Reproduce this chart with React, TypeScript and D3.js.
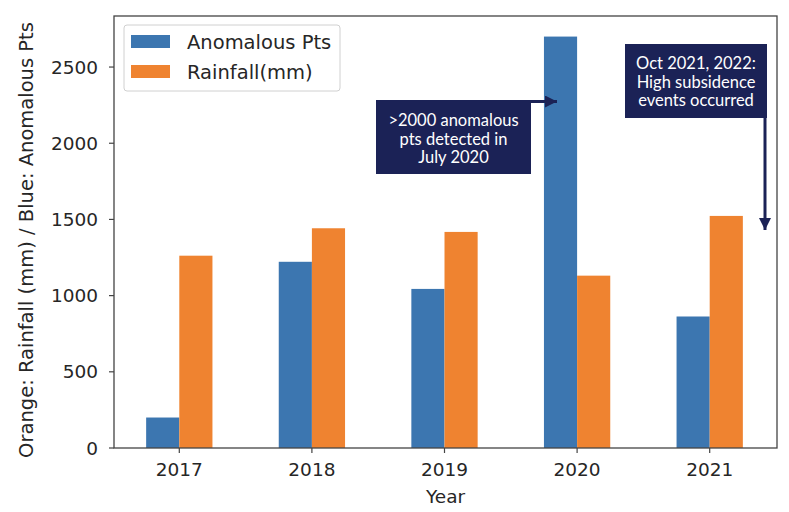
import React from "react";
import * as d3 from "d3";

const years = ["2017", "2018", "2019", "2020", "2021"];
const anomalousPts = [200, 1222, 1044, 2700, 863];
const rainfall = [1262, 1442, 1418, 1131, 1523];
const yTicks = [0, 500, 1000, 1500, 2000, 2500];
const seriesNames = ["Anomalous Pts", "Rainfall(mm)"];
const note1 = [">2000 anomalous", "pts detected in", "July 2020"];
const note2 = ["Oct 2021, 2022:", "High subsidence", "events occurred"];

const W = 789;
const H = 512;
const BLUE = "#3c76b0";
const ORANGE = "#ef8330";
const NAVY = "#1b2256";
const AX = "#444";
const TXT = "#262626";

export default function App() {
  const left = 114, right = 777, top = 16, bottom = 448;
  const x = d3.scaleLinear().domain([-0.5, years.length - 0.5]).range([left - 1, right - 1]);
  const y = d3.scaleLinear().domain([0, 2835]).range([bottom, top]);
  const bw = 0.25;
  const font = "'DejaVu Sans', sans-serif";
  const noteFont = "Lato, 'Open Sans', sans-serif";

  return (
    <svg width={W} height={H} style={{ position: "absolute", left: 0, top: 0, background: "#fff" }}>
      <rect x={0} y={0} width={W} height={H} fill="#fff" />
      {years.map((yr, i) => (
        <g key={yr}>
          <rect x={x(i - bw)} y={y(anomalousPts[i])} width={x(bw) - x(0)} height={y(0) - y(anomalousPts[i])} fill={BLUE} />
          <rect x={x(i)} y={y(rainfall[i])} width={x(bw) - x(0)} height={y(0) - y(rainfall[i])} fill={ORANGE} />
        </g>
      ))}
      {/* spines */}
      <rect x={left} y={top} width={right - left} height={bottom - top} fill="none" stroke={AX} strokeWidth={1.3} />
      {/* y ticks */}
      {yTicks.map((t) => (
        <g key={t}>
          <line x1={left - 5} x2={left} y1={y(t)} y2={y(t)} stroke={AX} strokeWidth={1.2} />
          <text x={98} y={y(t)} dy="0.36em" textAnchor="end" fontFamily={font} fontSize={18.5} fill={TXT}>
            {t}
          </text>
        </g>
      ))}
      {/* x ticks */}
      {years.map((yr, i) => (
        <g key={"xt" + yr}>
          <line x1={x(i)} x2={x(i)} y1={bottom} y2={bottom + 5} stroke={AX} strokeWidth={1.2} />
          <text x={x(i)} y={476} textAnchor="middle" fontFamily={font} fontSize={18.5} fill={TXT}>
            {yr}
          </text>
        </g>
      ))}
      <text x={(left + right) / 2} y={503} textAnchor="middle" fontFamily={font} fontSize={18.5} fill={TXT}>
        Year
      </text>
      <text
        transform={`translate(33,240) rotate(-90)`}
        textAnchor="middle"
        fontFamily={font}
        fontSize={19.5}
        fill={TXT}
      >
        Orange: Rainfall (mm) / Blue: Anomalous Pts
      </text>
      {/* legend */}
      <g>
        <rect x={124} y={25} width={216} height={66} rx={3} fill="#fff" fillOpacity={0.8} stroke="#d0d0d0" strokeWidth={1} />
        {seriesNames.map((n, i) => (
          <g key={n}>
            <rect x={131} y={35 + i * 30} width={39} height={13} fill={i === 0 ? BLUE : ORANGE} />
            <text x={187} y={48.5 + i * 30.5} fontFamily={font} fontSize={19.5} fill={TXT}>
              {n}
            </text>
          </g>
        ))}
      </g>
      {/* annotations */}
      <defs>
        <marker id="ah" viewBox="0 0 10 10" refX={10} refY={5} markerWidth={4} markerHeight={4} orient="auto-start-reverse">
          <path d="M0,0 L10,5 L0,10 z" fill={NAVY} />
        </marker>
      </defs>
      <line x1={531} y1={101.5} x2={557} y2={101.5} stroke={NAVY} strokeWidth={3} markerEnd="url(#ah)" />
      <rect x={376} y={100} width={155} height={74} fill={NAVY} />
      {note1.map((l, i) => (
        <text key={l} x={453.5} y={126 + i * 18.5} textAnchor="middle" fontFamily={noteFont} fontSize={16.5} fill="#fff">
          {l}
        </text>
      ))}
      <line x1={765} y1={117} x2={765} y2={230} stroke={NAVY} strokeWidth={3} markerEnd="url(#ah)" />
      <rect x={625} y={44} width={142} height={74} fill={NAVY} />
      {note2.map((l, i) => (
        <text key={l} x={696} y={69 + i * 18.5} textAnchor="middle" fontFamily={noteFont} fontSize={16.5} fill="#fff">
          {l}
        </text>
      ))}
    </svg>
  );
}
